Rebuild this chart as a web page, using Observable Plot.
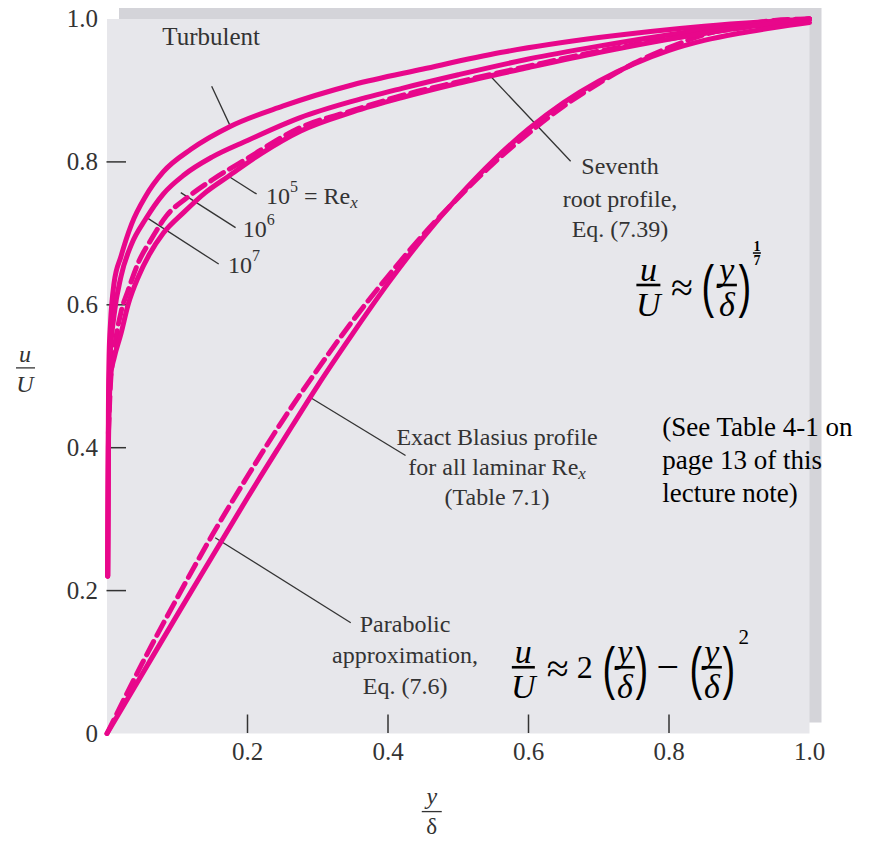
<!DOCTYPE html>
<html><head><meta charset="utf-8">
<script src="https://cdn.jsdelivr.net/npm/d3@7"></script>
<script src="https://cdn.jsdelivr.net/npm/@observablehq/plot@0.6"></script>
<style>
body{margin:0;background:#fff;}
#chart{width:890px;height:841px;}
</style></head><body><div id="chart"></div>
<script>
// ---------- data ----------
const pink = "#e8078b";

// turbulent profiles (y/δ , u/U)
const re7X = [0.001,0.002,0.003,0.005,0.01,0.02,0.035,0.055,0.08,0.12,0.176,0.25,0.35,0.45,0.56,0.70,0.85,1.0];
const re7U = [0.22,0.45,0.53,0.575,0.63,0.668,0.713,0.752,0.786,0.818,0.850,0.878,0.908,0.930,0.953,0.974,0.99,1.0];

const re6X = [0.001,0.002,0.004,0.01,0.02,0.035,0.055,0.08,0.11,0.15,0.2,0.275,0.35,0.42,0.5,0.6,0.7,0.85,1.0];
const re6U = [0.22,0.42,0.52,0.585,0.64,0.685,0.72,0.755,0.782,0.807,0.830,0.862,0.885,0.903,0.922,0.944,0.962,0.985,1.0];

const re5X = [0.001,0.002,0.005,0.01,0.02,0.03,0.045,0.06,0.08,0.11,0.14,0.173,0.22,0.275,0.35,0.42,0.5,0.6,0.7,0.85,1.0];
const re5U = [0.22,0.40,0.50,0.525,0.56,0.60,0.64,0.67,0.70,0.73,0.757,0.78,0.812,0.843,0.87,0.89,0.91,0.932,0.953,0.98,1.0];

// seventh-root profile (dashed)
const sevX = [0.002,0.005,0.01,0.02,0.03,0.045,0.062,0.085,0.114,0.15,0.2,0.275,0.35,0.42,0.5,0.6,0.7,0.85,1.0];
const sevU = [0.42,0.49,0.535,0.59,0.62,0.66,0.69,0.725,0.75,0.775,0.805,0.848,0.872,0.893,0.912,0.934,0.955,0.98,1.0];

// laminar: exact Blasius (solid) and parabolic approximation (dashed)
const blaX = [0,0.05,0.1,0.15,0.2,0.25,0.3,0.35,0.4,0.45,0.5,0.55,0.6,0.65,0.7,0.75,0.8,0.85,0.9,0.95,1.0];
const blaU = [0,0.083,0.166,0.248,0.330,0.409,0.487,0.560,0.630,0.694,0.751,0.802,0.846,0.883,0.913,0.937,0.956,0.970,0.980,0.988,0.995];
const parX = [0,0.05,0.1,0.15,0.2,0.25,0.3,0.35,0.4,0.45,0.5,0.55,0.6,0.65,0.7,0.75,0.8,0.85,0.9,0.95,1.0];
const parU = [0,0.098,0.19,0.278,0.36,0.438,0.51,0.578,0.64,0.698,0.75,0.798,0.84,0.878,0.91,0.938,0.96,0.978,0.99,0.998,1.0];

// axes
const xTickMarks = [0.2,0.4,0.6,0.8];
const xTickLabels = [0.2,0.4,0.6,0.8,1.0];
const yTickMarks = [0.2,0.4,0.6,0.8];
const yTickLabels = [0,0.2,0.4,0.6,0.8,1.0];

// annotation leader lines [x1,y1,x2,y2] in data units
const leaderX1 = [0.149,0.173,0.105,0.055,0.543,0.290,0.154];
const leaderY1 = [0.906,0.780,0.757,0.723,0.923,0.470,0.274];
const leaderX2 = [0.176,0.213,0.183,0.159,0.660,0.425,0.347];
const leaderY2 = [0.849,0.755,0.708,0.657,0.801,0.389,0.155];

// ---------- build tables ----------
function rows(xs, us, name){ return xs.map((x,i)=>({x, u: us[i], series: name})); }
const solid = [...rows(re7X,re7U,"1e7"),...rows(re6X,re6U,"1e6"),...rows(re5X,re5U,"1e5"),...rows(blaX,blaU,"Blasius")];
const dashed = [...rows(sevX,sevU,"seventh"),...rows(parX,parU,"parabolic")];
const leaders = leaderX1.map((d,i)=>({x1:d,y1:leaderY1[i],x2:leaderX2[i],y2:leaderY2[i]}));

const plot = Plot.plot({
  width: 890, height: 841,
  marginLeft: 106.5, marginRight: 81, marginTop: 18.5, marginBottom: 108,
  x: {domain: [0,1]}, y: {domain: [0,1]},
  style: {fontFamily: "Liberation Serif", background: "transparent", color: "#333"},
  marks: [
    Plot.frame({fill: "#d4d4d9", dx: 12, dy: -11}),
    Plot.frame({fill: "#e7e7eb"}),
    Plot.tickX(xTickMarks, {x: d=>d, stroke: "#333", strokeWidth: 1.5, insetTop: 696}),
    Plot.tickY(yTickMarks, {y: d=>d, stroke: "#333", strokeWidth: 1.5, insetRight: 683}),
    Plot.axisX({ticks: xTickLabels, tickSize: 0, tickPadding: 9, tickFormat: d=>d.toFixed(1), fontSize: 25, label: null}),
    Plot.axisY({ticks: yTickLabels, tickSize: 0, tickPadding: 9, tickFormat: d=> d===0 ? "0" : d.toFixed(1), fontSize: 25, label: null}),
    Plot.link(leaders, {x1:"x1", y1:"y1", x2:"x2", y2:"y2", stroke: "#333", strokeWidth: 1.3}),
    Plot.line(dashed, {x: "x", y: "u", z: "series", stroke: pink, strokeWidth: 5, strokeDasharray: "15,7", curve: "monotone-x"}),
    Plot.line(solid, {x: "x", y: "u", z: "series", stroke: pink, strokeWidth: 5, curve: "monotone-x"})
  ]
});
document.getElementById("chart").appendChild(plot);

// ---------- annotations ----------
const sx = plot.scale("x"), sy = plot.scale("y");
const X = v => sx.apply(v), Y = v => sy.apply(v);
const layer = d3.select(plot).append("g");

function txt(px, py, parts, o = {}) {
  const t = layer.append("text").attr("x", px).attr("y", py)
    .attr("text-anchor", o.anchor || "start")
    .attr("font-size", o.size || 24)
    .attr("fill", o.fill || "#333")
    .attr("font-family", o.family || "Liberation Serif")
    .attr("dominant-baseline", "central");
  if (o.italic) t.attr("font-style", "italic");
  if (o.weight) t.attr("font-weight", o.weight);
  for (const p of parts) {
    if (typeof p === "string") { t.append("tspan").text(p); continue; }
    const s = t.append("tspan").text(p.t);
    if (p.dy) s.attr("dy", p.dy);
    if (p.size) s.attr("font-size", p.size);
    if (p.italic) s.attr("font-style", "italic");
  }
  return t;
}
function bar(x1, x2, y, w = 1.3, c = "#333") {
  layer.append("line").attr("x1", x1).attr("x2", x2).attr("y1", y).attr("y2", y)
    .attr("stroke", c).attr("stroke-width", w);
}

// labels near turbulent curves
txt(X(0.149), Y(0.975), ["Turbulent"], {anchor: "middle", size: 25});
txt(X(0.227), Y(0.752), ["10", {t: "5", dy: -10, size: 16}, {t: " = Re", dy: 10}, {t: "x", dy: 6, size: 17, italic: true}]);
txt(X(0.194), Y(0.706), ["10", {t: "6", dy: -10, size: 16}]);
txt(X(0.173), Y(0.655), ["10", {t: "7", dy: -10, size: 16}]);

// seventh root
txt(X(0.731), Y(0.793), ["Seventh"], {anchor: "middle"});
txt(X(0.731), Y(0.748), ["root profile,"], {anchor: "middle"});
txt(X(0.731), Y(0.705), ["Eq. (7.39)"], {anchor: "middle"});

// Blasius
txt(X(0.556), Y(0.414), ["Exact Blasius profile"], {anchor: "middle"});
txt(X(0.556), Y(0.372), ["for all laminar Re", {t: "x", dy: 6, size: 17, italic: true}], {anchor: "middle"});
txt(X(0.556), Y(0.330), ["(Table 7.1)"], {anchor: "middle"});

// parabolic
txt(X(0.425), Y(0.152), ["Parabolic"], {anchor: "middle"});
txt(X(0.425), Y(0.109), ["approximation,"], {anchor: "middle"});
txt(X(0.425), Y(0.066), ["Eq. (7.6)"], {anchor: "middle"});

// lecture note
txt(X(0.791), Y(0.428), ["(See Table 4-1 on"], {size: 27, fill: "#000"});
txt(X(0.791), Y(0.382), ["page 13 of this"], {size: 27, fill: "#000"});
txt(X(0.791), Y(0.336), ["lecture note)"], {size: 27, fill: "#000"});

// axis labels
{
  const cx = X(-0.116), cy = Y(0.511);
  txt(cx, cy - 14, ["u"], {anchor: "middle", italic: true});
  bar(cx - 9, cx + 10, cy, 1.3);
  txt(cx, cy + 16, ["U"], {anchor: "middle", italic: true});
}
{
  const cx = X(0.463), cy = Y(-0.11);
  txt(cx, cy - 16, ["y"], {anchor: "middle", italic: true});
  bar(cx - 10, cx + 10, cy, 1.3);
  txt(cx, cy + 14, ["δ"], {anchor: "middle", size: 23});
}

// formulas
const ff = "Liberation Serif";
function frac(cx, by, num, den, w, size = 34) {
  txt(cx, by - 16, [num], {anchor: "middle", italic: true, size, fill: "#000", family: ff});
  bar(cx - w/2, cx + w/2, by, 2.6, "#000");
  txt(cx, by + 19, [den], {anchor: "middle", italic: true, size, fill: "#000", family: ff});
}
function sym(cx, cy, s, size = 30) {
  txt(cx, cy, [s], {anchor: "middle", size, fill: "#000", family: ff});
}
function paren(cx, cy, s) {
  layer.append("text").attr("transform", `translate(${cx},${cy}) scale(1,1.5)`)
    .attr("text-anchor", "middle").attr("dominant-baseline", "central")
    .attr("font-family", "Liberation Sans").attr("font-size", 38).attr("fill", "#000").text(s);
}
{
  const ox = X(0.755), oy = Y(0.627);
  frac(ox + 11.5, oy, "u", "U", 24);
  sym(ox + 45, oy + 2, "≈", 40);
  paren(ox + 71, oy + 1, "(");
  frac(ox + 90, oy, "y", "δ", 20);
  paren(ox + 108, oy + 1, ")");
  txt(ox + 120, oy - 39, ["1"], {anchor: "middle", size: 14, fill: "#000", weight: "bold", family: ff});
  bar(ox + 116, ox + 124, oy - 32, 1.5, "#000");
  txt(ox + 120, oy - 25, ["7"], {anchor: "middle", size: 14, fill: "#000", weight: "bold", family: ff});
}
{
  const ox = X(0.577), oy = Y(0.092);
  frac(ox + 11.5, oy, "u", "U", 23);
  sym(ox + 46, oy + 1, "≈", 40);
  sym(ox + 73, oy, "2", 32);
  paren(ox + 97, oy + 1, "(");
  frac(ox + 113, oy, "y", "δ", 20);
  paren(ox + 130, oy + 1, ")");
  sym(ox + 156, oy - 1, "−", 40);
  paren(ox + 184, oy + 1, "(");
  frac(ox + 200, oy, "y", "δ", 20);
  paren(ox + 217, oy + 1, ")");
  txt(ox + 232, oy - 30, ["2"], {anchor: "middle", size: 21, fill: "#000", family: ff});
}
</script></body></html>
